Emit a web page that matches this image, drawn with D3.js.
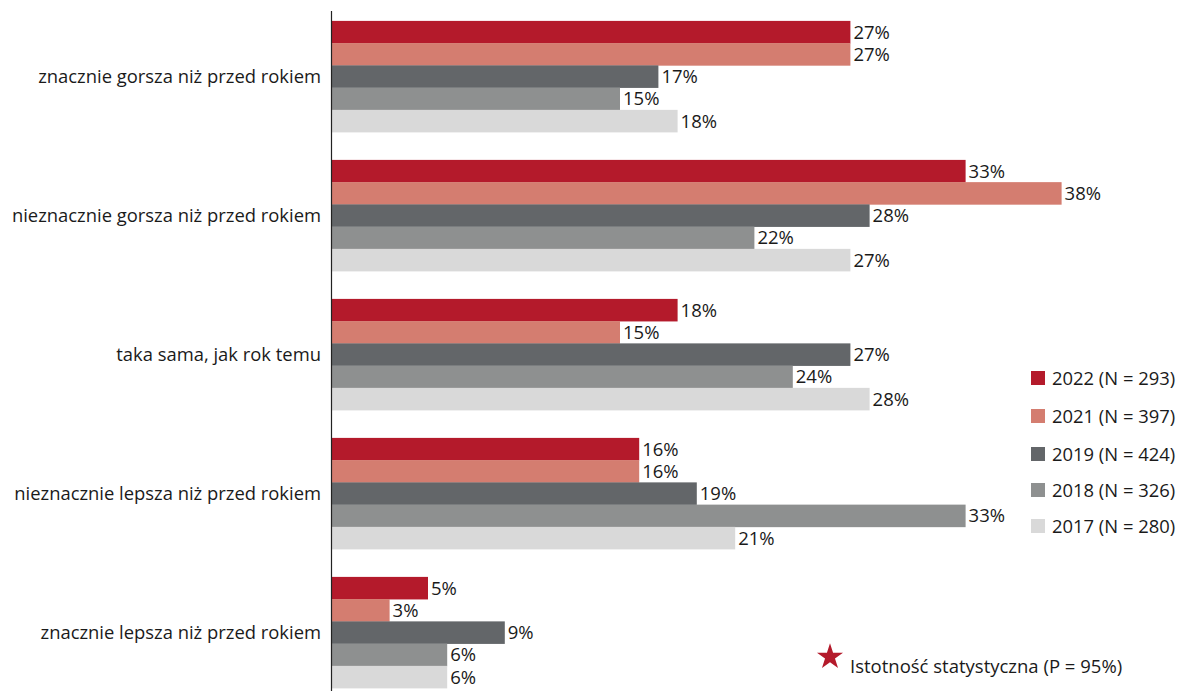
<!DOCTYPE html>
<html>
<head>
<meta charset="utf-8">
<script src="https://cdn.jsdelivr.net/npm/d3@7"></script>
<style>
  body { margin: 0; background: #fff; }
  text { font-family: "Open Sans", sans-serif; fill: #1a1a1a; }
</style>
</head>
<body>
<script>
var categories = ["znacznie gorsza niż przed rokiem", "nieznacznie gorsza niż przed rokiem",
                  "taka sama, jak rok temu", "nieznacznie lepsza niż przed rokiem",
                  "znacznie lepsza niż przed rokiem"];
var seriesNames = ["2022 (N = 293)", "2021 (N = 397)", "2019 (N = 424)", "2018 (N = 326)", "2017 (N = 280)"];
var colors = ["#b41a2b", "#d47d70", "#636669", "#8e9090", "#d9d9d9"];
var v2022 = [27, 33, 18, 16, 5];
var v2021 = [27, 38, 15, 16, 3];
var v2019 = [17, 28, 27, 19, 9];
var v2018 = [15, 22, 24, 33, 6];
var v2017 = [18, 27, 28, 21, 6];
var series = [v2022, v2021, v2019, v2018, v2017];

var width = 1187;
var height = 691;

var svg = d3.select("body")
  .append("svg")
  .attr("width", width)
  .attr("height", height);

var x = d3.scaleLinear().domain([0, 1]).range([332, 332 + 1920]);
var y0 = d3.scaleBand().domain(categories).range([7, 702]).paddingInner(0.2).paddingOuter(0.1);
var y1 = d3.scaleBand().domain(seriesNames).range([0, y0.bandwidth()]);

var rows = [];
categories.forEach(function(c, i) {
  seriesNames.forEach(function(s, j) {
    rows.push({ cat: c, name: s, value: series[j][i], color: colors[j] });
  });
});

svg.selectAll("rect.bar")
  .data(rows)
  .enter()
  .append("rect")
  .attr("class", "bar")
  .attr("x", x(0))
  .attr("y", function(d) { return y0(d.cat) + y1(d.name); })
  .attr("width", function(d) { return x(d.value / 100) - x(0); })
  .attr("height", y1.bandwidth() + 0.3)
  .attr("fill", function(d) { return d.color; });

svg.selectAll("text.val")
  .data(rows)
  .enter()
  .append("text")
  .attr("class", "val")
  .text(function(d) { return d.value + "%"; })
  .attr("x", function(d) { return x(d.value / 100) + 3; })
  .attr("y", function(d) { return y0(d.cat) + y1(d.name) + y1.bandwidth() / 2; })
  .attr("dy", "0.36em")
  .attr("font-size", "18.5px");

// axis line
svg.append("line")
  .attr("x1", 331.5).attr("x2", 331.5)
  .attr("y1", 11).attr("y2", height)
  .attr("stroke", "#222").attr("stroke-width", 1.2);

svg.selectAll("text.cat")
  .data(categories)
  .enter()
  .append("text")
  .attr("class", "cat")
  .text(function(d) { return d; })
  .attr("x", 321)
  .attr("y", function(d) { return y0(d) + y0.bandwidth() / 2; })
  .attr("dy", "0.36em")
  .attr("text-anchor", "end")
  .attr("font-size", "18.4px");

// legend
var legendY = [378, 416, 454, 490, 526];
var legend = svg.selectAll("g.legend")
  .data(seriesNames)
  .enter()
  .append("g")
  .attr("class", "legend")
  .attr("transform", function(d, i) { return "translate(1031," + legendY[i] + ")"; });

legend.append("rect")
  .attr("x", 0).attr("y", -7)
  .attr("width", 14).attr("height", 14)
  .attr("fill", function(d, i) { return colors[i]; });

legend.append("text")
  .text(function(d) { return d; })
  .attr("x", 21)
  .attr("dy", "0.36em")
  .attr("font-size", "18.4px");

// significance note
var star = d3.symbol().type(d3.symbolStar).size(210);
svg.append("path")
  .attr("d", star())
  .attr("transform", "translate(830,657)")
  .attr("fill", "#b41a2b");

svg.append("text")
  .text("Istotność statystyczna (P = 95%)")
  .attr("x", 850)
  .attr("y", 666)
  .attr("dy", "0.36em")
  .attr("font-size", "18.5px");
</script>
</body>
</html>
